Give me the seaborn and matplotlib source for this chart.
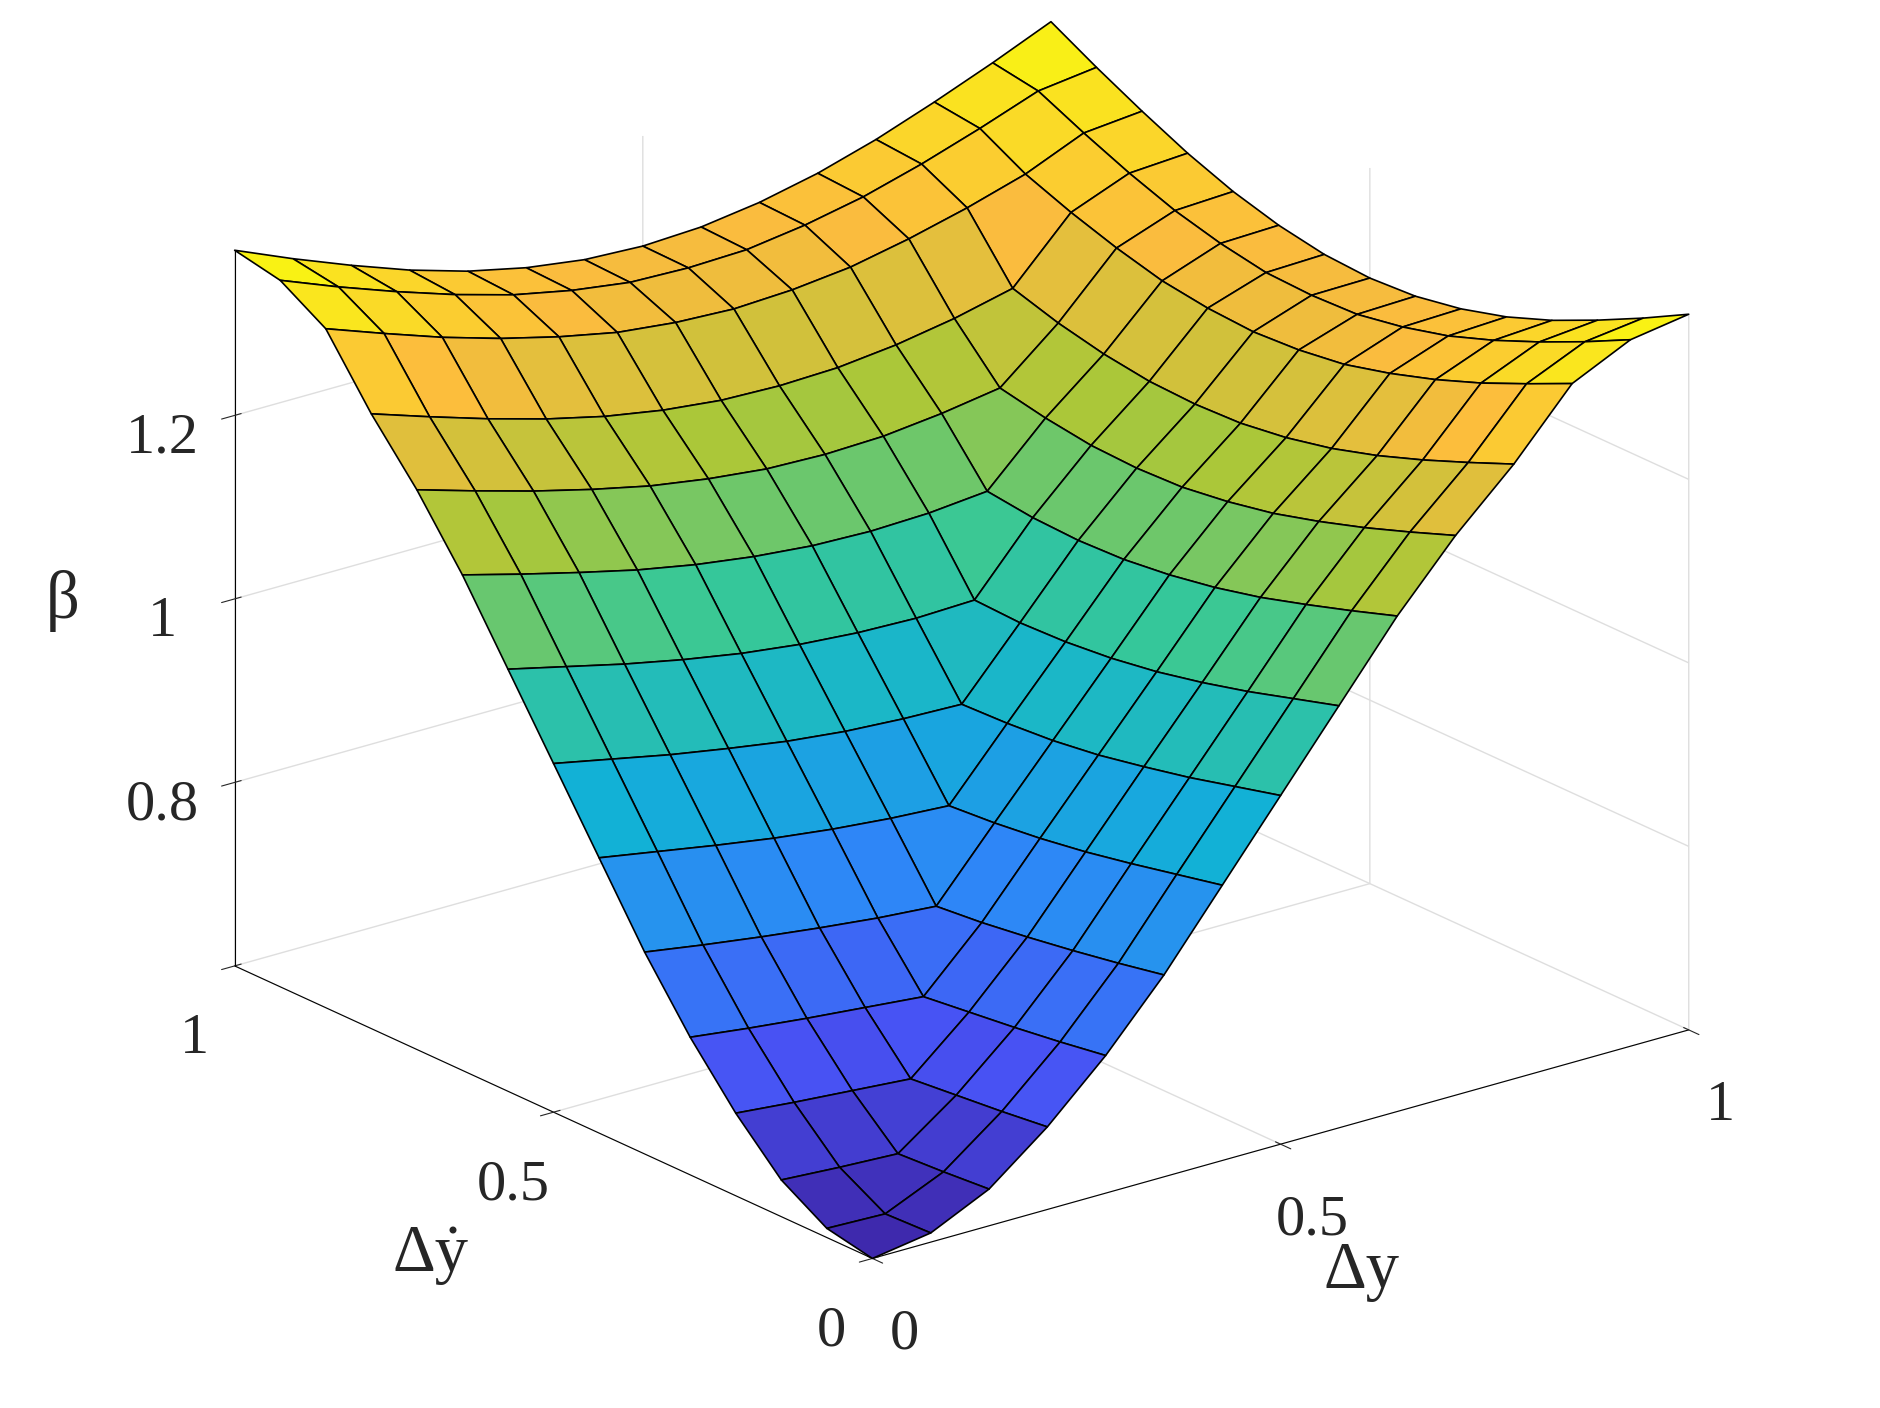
import numpy as np
import matplotlib
matplotlib.use("Agg")
import matplotlib.pyplot as plt
import seaborn as sns
from matplotlib.colors import LinearSegmentedColormap

sns.set_style("white")
plt.rcParams['font.family'] = ['Liberation Serif', 'DejaVu Serif']

# grid coordinates (15 x 15, as in a fuzzy gensurf output)
dy_vals = np.linspace(0, 1, 15)
dydot_vals = np.linspace(0, 1, 15)

# beta values, lower triangle by row (u = max index, v = min index); surface is symmetric
beta_tri = [
    [0.600],
    [0.610, 0.608],
    [0.640, 0.636, 0.633],
    [0.690, 0.684, 0.679, 0.674],
    [0.750, 0.742, 0.735, 0.729, 0.723],
    [0.820, 0.810, 0.801, 0.793, 0.786, 0.781],
    [0.900, 0.889, 0.878, 0.868, 0.860, 0.854, 0.850],
    [0.980, 0.967, 0.954, 0.943, 0.933, 0.926, 0.922, 0.920],
    [1.060, 1.045, 1.030, 1.017, 1.006, 0.998, 0.993, 0.991, 0.993],
    [1.140, 1.123, 1.107, 1.092, 1.080, 1.071, 1.065, 1.063, 1.065, 1.071],
    [1.210, 1.191, 1.173, 1.157, 1.143, 1.133, 1.126, 1.124, 1.126, 1.133, 1.143],
    [1.270, 1.249, 1.229, 1.211, 1.196, 1.185, 1.178, 1.176, 1.178, 1.185, 1.196, 1.211],
    [1.340, 1.317, 1.295, 1.276, 1.260, 1.247, 1.240, 1.237, 1.240, 1.247, 1.260, 1.276, 1.295],
    [1.370, 1.345, 1.322, 1.301, 1.283, 1.270, 1.261, 1.259, 1.261, 1.270, 1.283, 1.301, 1.322, 1.345],
    [1.380, 1.353, 1.328, 1.305, 1.286, 1.272, 1.263, 1.260, 1.263, 1.272, 1.286, 1.305, 1.328, 1.353, 1.380],
]

n = len(beta_tri)
Z = np.zeros((n, n))
for i, row in enumerate(beta_tri):
    for j, v in enumerate(row):
        Z[i, j] = v
        Z[j, i] = v

X, Y = np.meshgrid(dy_vals, dydot_vals)

parula = LinearSegmentedColormap.from_list("parula", [
    (0.2422, 0.1504, 0.6603), (0.2810, 0.3228, 0.9579), (0.1786, 0.5289, 0.9682),
    (0.0689, 0.6948, 0.8394), (0.2161, 0.7843, 0.5923), (0.6720, 0.7793, 0.2227),
    (0.9871, 0.7348, 0.2438), (0.9763, 0.9831, 0.0538)])

fig = plt.figure(figsize=(18.8, 14.08), dpi=100)
ax = fig.add_axes([-0.11, -0.04, 1.22, 1.14], projection='3d')
ax.set_proj_type('ortho')
ax.plot_surface(X, Y, Z, cmap=parula, vmin=Z.min(), vmax=Z.max(), rstride=1, cstride=1,
                edgecolor='black', linewidth=1.2, shade=False, antialiased=True)
ax.view_init(elev=21, azim=-128)
ax.set_xlim(0, 1); ax.set_ylim(0, 1); ax.set_zlim(Z.min(), Z.max())
ax.set_xticks([0, 0.5, 1]); ax.set_yticks([0, 0.5, 1]); ax.set_zticks([0.8, 1, 1.2])
ax.set_xticklabels(['0', '0.5', '1']); ax.set_yticklabels(['0', '0.5', '1'])
ax.set_zticklabels(['0.8', '1', '1.2'])
ax.tick_params(labelsize=42, pad=22)
ax.set_xlabel('Δy', fontsize=48, labelpad=55)
ax.set_ylabel('Δẏ', fontsize=48, labelpad=70)
ax.set_zlabel('β', fontsize=48, labelpad=50)
for a in (ax.xaxis, ax.yaxis, ax.zaxis):
    a.set_pane_color((1, 1, 1, 0))
    a._axinfo['grid']['color'] = (0.87, 0.87, 0.87, 1)
    a._axinfo['grid']['linewidth'] = 1.0
    a.line.set_color('black')
ax.set_box_aspect((1, 1, 0.74), zoom=1.0)
fig.savefig("out.png", dpi=100, facecolor='white')
